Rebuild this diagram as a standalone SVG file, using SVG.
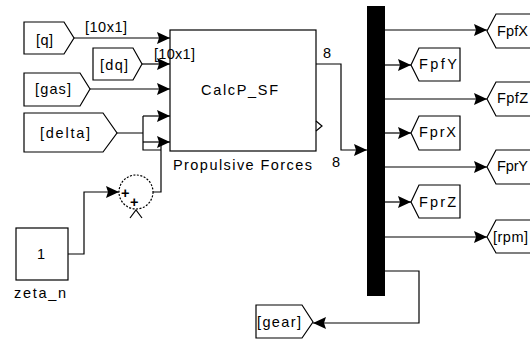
<svg xmlns="http://www.w3.org/2000/svg" width="530" height="339" viewBox="0 0 530 339">
<defs>
<marker id="ah" markerUnits="userSpaceOnUse" markerWidth="14" markerHeight="13" refX="13" refY="6" orient="auto">
<path d="M0,0 L13,6 L0,12 L2,6 z" fill="#000"/>
</marker>
<style>
text{font-family:"Liberation Sans",Arial,sans-serif;font-size:14.5px;fill:#000}
.blk{fill:#fff;stroke:#000;stroke-width:1.2}
.ln{fill:none;stroke:#000;stroke-width:1.2}
.ar{marker-end:url(#ah)}
</style>
</defs>
<rect width="530" height="339" fill="#fff"/>

<g id="from_q">
<polygon class="blk" points="24,22 64,22 74,38 64,54 24,54"/>
<text x="36" y="45" textLength="17">[q]</text>
</g>
<g id="from_dq">
<polygon class="blk" points="93,48 133,48 142,64 133,80 93,80"/>
<text x="100" y="70" textLength="28">[dq]</text>
</g>
<g id="from_gas">
<polygon class="blk" points="24,73 80,73 90,89 80,106 24,106"/>
<text x="35" y="94" textLength="36">[gas]</text>
</g>
<g id="from_delta">
<polygon class="blk" points="24,113 103,113 117,133 103,152 24,152"/>
<text x="40" y="138" textLength="50">[delta]</text>
</g>

<g id="calcp_sf">
<rect class="blk" x="170" y="30" width="146" height="121"/>
<polyline class="ln" points="316,121 322,126 316,131"/>
<text x="201" y="95" textLength="77">CalcP_SF</text>
<text x="173" y="170" textLength="139">Propulsive Forces</text>
</g>

<g id="sum">
<circle cx="136" cy="192" r="17" fill="#fff" stroke="#000" stroke-width="1.2" stroke-dasharray="2,1.5"/>
<text x="121" y="198" font-size="15" font-weight="bold">+</text>
<text x="130" y="207" font-size="15" font-weight="bold">+</text>
<polyline class="ln" points="130,218 136,210 142,218"/>
</g>

<g id="zeta_n">
<rect class="blk" x="16" y="228" width="52" height="52"/>
<text x="37" y="259">1</text>
<text x="14" y="298" textLength="52">zeta_n</text>
</g>

<g id="demux">
<rect x="367" y="6" width="18" height="290" fill="#000"/>
</g>

<g id="goto_FpfX">
<polygon class="blk" points="487,31 496,14 535,14 535,48 496,48"/>
<text x="497" y="36" textLength="31">FpfX</text>
</g>
<g id="goto_FpfY">
<polygon class="blk" points="411,65 419,48 460,48 460,81 419,81"/>
<text x="419" y="69" textLength="38">FpfY</text>
</g>
<g id="goto_FpfZ">
<polygon class="blk" points="487,99 496,82 535,82 535,116 496,116"/>
<text x="497" y="103" textLength="31">FpfZ</text>
</g>
<g id="goto_FprX">
<polygon class="blk" points="411,133 419,116 460,116 460,150 419,150"/>
<text x="419" y="137" textLength="37">FprX</text>
</g>
<g id="goto_FprY">
<polygon class="blk" points="487,167 496,150 535,150 535,184 496,184"/>
<text x="497" y="171" textLength="31">FprY</text>
</g>
<g id="goto_FprZ">
<polygon class="blk" points="411,202 419,185 460,185 460,218 419,218"/>
<text x="419" y="207" textLength="37">FprZ</text>
</g>
<g id="goto_rpm">
<polygon class="blk" points="487,237 496,220 535,220 535,253 496,253"/>
<text x="493" y="242" textLength="35">[rpm]</text>
</g>
<g id="goto_gear">
<polygon class="blk" points="256,305 302,305 313,322 302,338 256,338"/>
<text x="257" y="327" textLength="44">[gear]</text>
</g>

<g id="connectors">
<path class="ln ar" d="M74,38 H170"/>
<path class="ln ar" d="M142,64 H170"/>
<path class="ln ar" d="M90,89 H170"/>
<path class="ln" d="M117,133 H143 M143,116 V150 H161 M153,192 H161 V142"/>
<path class="ln ar" d="M143,116 H170"/>
<path class="ln ar" d="M143,142 H170"/>
<path class="ln ar" d="M68,254 H84 V192 H119"/>
<path class="ln ar" d="M316,64 H341 V150 H367"/>
<path class="ln ar" d="M385,30 H487"/>
<path class="ln ar" d="M385,65 H411"/>
<path class="ln ar" d="M385,99 H487"/>
<path class="ln ar" d="M385,133 H411"/>
<path class="ln ar" d="M385,167 H487"/>
<path class="ln ar" d="M385,202 H411"/>
<path class="ln ar" d="M385,237 H487"/>
<path class="ln ar" d="M385,271 H419 V323 H313"/>
<text x="85" y="32" textLength="42">[10x1]</text>
<text x="154" y="59" textLength="41">[10x1]</text>
<text x="323" y="58" textLength="8">8</text>
<text x="332" y="167" textLength="8">8</text>
</g>
</svg>
